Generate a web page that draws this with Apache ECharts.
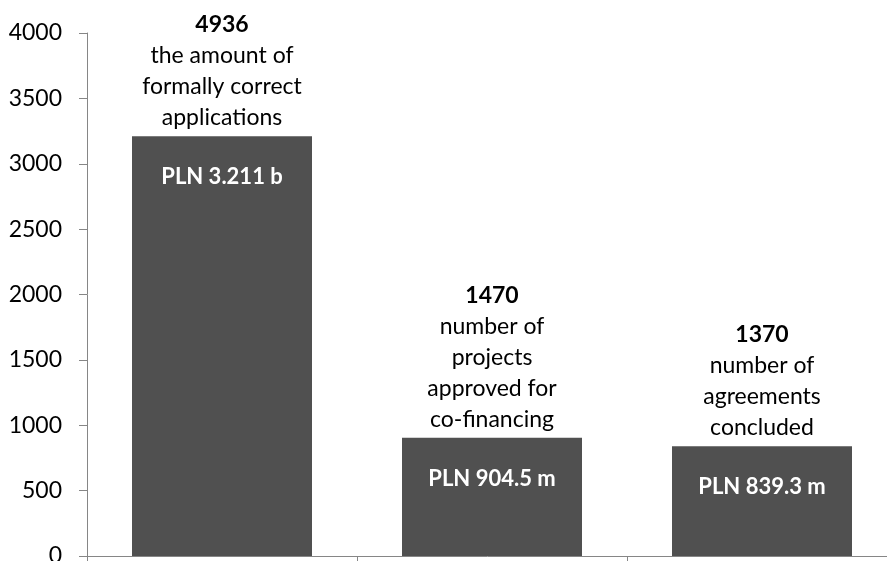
<!DOCTYPE html>
<html>
<head>
<meta charset="utf-8">
<title>applications chart</title>
<script src="https://cdn.jsdelivr.net/npm/echarts@6/dist/echarts.min.js"></script>
<style>
  html, body { margin: 0; padding: 0; background: #fff; }
  #main { width: 887px; height: 561px; }
</style>
</head>
<body>
<div id="main"></div>
<script type="text/javascript">
// data
var categories = ['applications', 'approved', 'agreements'];
var values = [3211, 904.5, 839.3];
var counts = ['4936', '1470', '1370'];
var descriptions = [
  ['the amount of', 'formally correct', 'applications'],
  ['number of', 'projects', 'approved for', 'co-financing'],
  ['number of', 'agreements', 'concluded']
];
var amounts = ['PLN 3.211 b', 'PLN 904.5 m', 'PLN 839.3 m'];
var yTicks = [0, 500, 1000, 1500, 2000, 2500, 3000, 3500, 4000];

var myChart = echarts.init(document.getElementById('main'));

var option = {
  animation: false,
  grid: { left: 87, top: 33, bottom: 5, width: 810, outerBoundsMode: 'none', containLabel: false },
  xAxis: {
    type: 'category',
    data: categories,
    axisLine: { lineStyle: { color: '#868686', width: 1 } },
    axisTick: { show: true, length: 6, lineStyle: { color: '#868686' } },
    axisLabel: { show: false }
  },
  yAxis: {
    type: 'value',
    min: yTicks[0],
    max: yTicks[yTicks.length - 1],
    interval: 500,
    splitLine: { show: false },
    axisLine: { show: true, lineStyle: { color: '#868686', width: 1 } },
    axisTick: { show: true, length: 8, lineStyle: { color: '#868686' } },
    axisLabel: {
      color: '#000', fontFamily: 'Lato', fontSize: 23, margin: 25,
      formatter: function (v) { return String(v); }
    }
  },
  series: [
    {
      type: 'bar',
      data: values,
      barWidth: 180,
      itemStyle: { color: '#505050' },
      label: {
        show: true,
        position: 'top',
        distance: 3,
        formatter: function (p) {
          var lines = ['{n|' + counts[p.dataIndex] + '}'];
          descriptions[p.dataIndex].forEach(function (d) { lines.push('{t|' + d + '}'); });
          return lines.join('\n');
        },
        rich: {
          n: { fontFamily: 'Lato', fontWeight: 'bold', fontSize: 23, color: '#000', lineHeight: 31, align: 'center' },
          t: { fontFamily: 'Lato', fontSize: 23, color: '#000', lineHeight: 31, align: 'center' }
        }
      }
    },
    {
      type: 'bar',
      data: values,
      barWidth: 180,
      barGap: '-100%',
      itemStyle: { color: 'rgba(0,0,0,0)' },
      silent: true,
      label: {
        show: true,
        position: 'insideTop',
        distance: 30,
        formatter: function (p) { return amounts[p.dataIndex]; },
        fontFamily: 'Lato',
        fontWeight: 'bold',
        fontSize: 22,
        color: '#fff'
      }
    }
  ]
};

myChart.setOption(option);
</script>
</body>
</html>
